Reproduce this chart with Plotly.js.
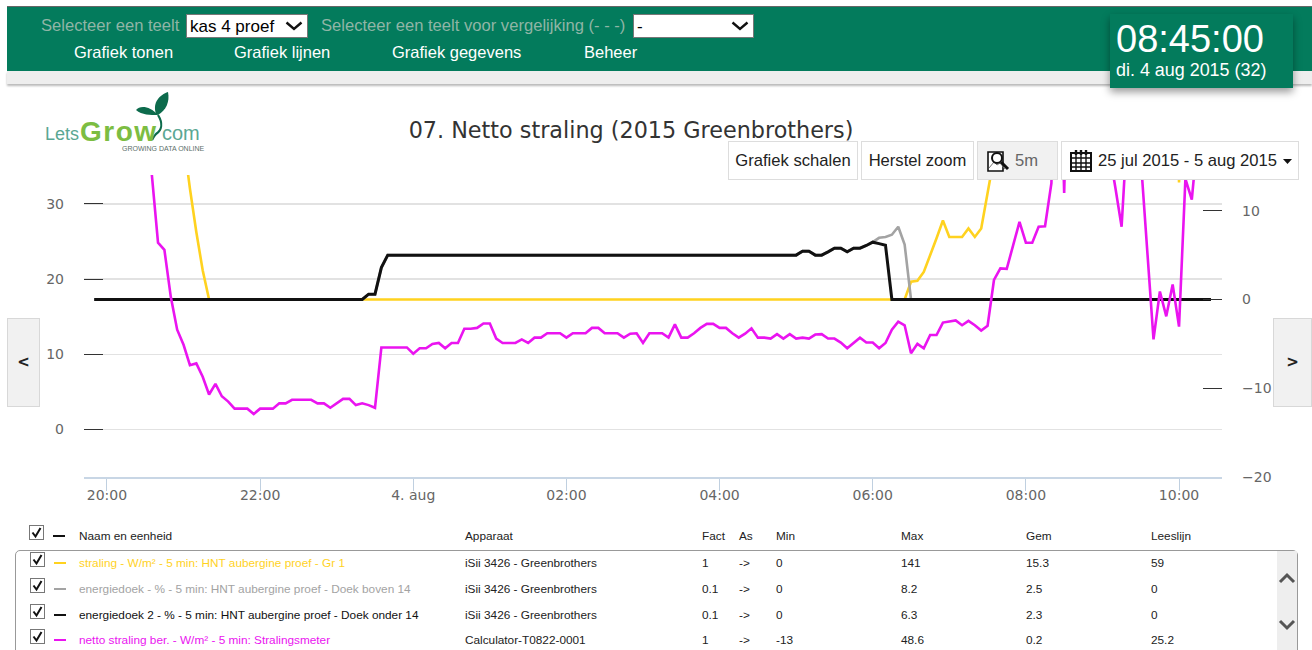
<!DOCTYPE html>
<html>
<head>
<meta charset="utf-8">
<script src="https://cdn.plot.ly/plotly-3.0.1.min.js"></script>
<style>
html,body{margin:0;padding:0;width:1312px;height:650px;overflow:hidden;background:#fff;font-family:"Liberation Sans",Arial,sans-serif}
#chart{position:absolute;left:0;top:0;width:1312px;height:650px}
.a{position:absolute;white-space:nowrap}
.lbl{font-size:16.6px;color:#8fb5a6;line-height:20px}
.nav{font-size:16.5px;color:#fff;line-height:20px}
select{position:absolute;appearance:none;-webkit-appearance:none;background:#fff url("data:image/svg+xml,%3Csvg xmlns='http://www.w3.org/2000/svg' width='18' height='10'%3E%3Cpath d='M1.5 1.5L9 8l7.500-6.500' fill='none' stroke='%23111' stroke-width='2.4'/%3E%3C/svg%3E") no-repeat right 4px center;border:1px solid #777;border-radius:0;font:17px "Liberation Sans",Arial,sans-serif;color:#000;padding:0 0 0 3px;height:24px;margin:0;box-sizing:border-box}
.btn{position:absolute;top:141px;height:39px;box-sizing:border-box;border:1px solid #ddd;background:#fff;font-size:16.6px;line-height:37px;color:#222;text-align:center;white-space:nowrap}
.side{position:absolute;top:318px;height:89px;box-sizing:border-box;border:1px solid #d8d8d8;background:#f1f1f1;font:bold 15px "DejaVu Sans",sans-serif;color:#222;line-height:87px;text-align:center}
.t{position:absolute;font-size:11.8px;line-height:14px;white-space:nowrap;color:#222}
.cb{position:absolute;width:15px;height:15px;box-sizing:border-box;border:1px solid #777;background:#fff}
.sw{position:absolute;width:12px;height:2px}
</style>
</head>
<body>
<div id="chart"></div>
<div id="chrome"></div>
<script>
var chartTitle = "07. Netto straling (2015 Greenbrothers)";
var tickVals = ["2015-08-03 20:00","2015-08-03 22:00","2015-08-04 00:00","2015-08-04 02:00","2015-08-04 04:00","2015-08-04 06:00","2015-08-04 08:00","2015-08-04 10:00"];
var tickLabels = ["20:00","22:00","4. aug","02:00","04:00","06:00","08:00","10:00"];
var seriesNames = ["straling","energiedoek","energiedoek 2","netto straling ber."];

var straling = [
90,80,70,60,52,46,40,36,32,29,
26,24,22,20,18,12.5,7.6,3.3,0,0,
0,0,0,0,0,0,0,0,0,0,
0,0,0,0,0,0,0,0,0,0,
0,0,0,0,0,0,0,0,0,0,
0,0,0,0,0,0,0,0,0,0,
0,0,0,0,0,0,0,0,0,0,
0,0,0,0,0,0,0,0,0,0,
0,0,0,0,0,0,0,0,0,0,
0,0,0,0,0,0,0,0,0,0,
0,0,0,0,0,0,0,0,0,0,
0,0,0,0,0,0,0,0,0,0,
0,0,0,0,0,0,0,0,2,2.1,
3.1,4.9,6.9,8.9,7.05,7.05,7.05,8,7.05,8,
12.1,16,22,28,30,34,38,41,44,48,
52,50,55,57,58,59,62,66,70,72,
74,78,82,70,60,50,40,30,60,65,
13.2,60,65,70,75,80];

var energiedoek = [
0,0,0,0,0,0,0,0,0,0,
0,0,0,0,0,0,0,0,0,0,
0,0,0,0,0,0,0,0,0,0,
0,0,0,0,0,0,0,0,0,0,
0,0,0,0.6,0.6,3.6,5,5,5,5,
5,5,5,5,5,5,5,5,5,5,
5,5,5,5,5,5,5,5,5,5,
5,5,5,5,5,5,5,5,5,5,
5,5,5,5,5,5,5,5,5,5,
5,5,5,5,5,5,5,5,5,5,
5,5,5,5,5,5,5,5,5,5,
5,5.45,5.45,5,5,5.37,5.79,5.79,5.37,5.79,
5.79,6.09,6.46,6.95,7.05,7.3,8.2,6.2,0,0,
0,0,0,0,0,0,0,0,0,0,
0,0,0,0,0,0,0,0,0,0,
0,0,0,0,0,0,0,0,0,0,
0,0,0,0,0,0,0,0,0,0,
0,0,0,0,0,0];

var energiedoek2 = [
0,0,0,0,0,0,0,0,0,0,
0,0,0,0,0,0,0,0,0,0,
0,0,0,0,0,0,0,0,0,0,
0,0,0,0,0,0,0,0,0,0,
0,0,0,0.6,0.6,3.6,5,5,5,5,
5,5,5,5,5,5,5,5,5,5,
5,5,5,5,5,5,5,5,5,5,
5,5,5,5,5,5,5,5,5,5,
5,5,5,5,5,5,5,5,5,5,
5,5,5,5,5,5,5,5,5,5,
5,5,5,5,5,5,5,5,5,5,
5,5.45,5.45,5,5,5.37,5.79,5.79,5.37,5.79,
5.79,6.09,6.46,6.3,6.12,0,0,0,0,0,
0,0,0,0,0,0,0,0,0,0,
0,0,0,0,0,0,0,0,0,0,
0,0,0,0,0,0,0,0,0,0,
0,0,0,0,0,0,0,0,0,0,
0,0,0,0,0,0];

var nettoStraling = [
45,44,43,41,38,35,30,26,20,14.3,
6.4,5.6,0.3,-3.4,-5.1,-7.4,-7.2,-8.7,-10.7,-9.5,
-10.9,-11.5,-12.3,-12.3,-12.3,-12.9,-12.3,-12.3,-12.3,-11.7,
-11.7,-11.3,-11.3,-11.3,-11.3,-11.7,-11.7,-12.2,-11.7,-11.2,
-11.2,-11.9,-11.7,-11.9,-12.2,-5.4,-5.4,-5.4,-5.4,-5.4,
-6.1,-5.5,-5.5,-5,-4.9,-5.5,-4.9,-4.9,-3.3,-3.3,
-3.2,-2.7,-2.7,-4.4,-4.9,-4.9,-4.9,-4.5,-4.9,-4.3,
-4.3,-3.8,-3.8,-3.8,-4.3,-3.8,-3.8,-3.8,-3.2,-3.2,
-3.8,-3.8,-3.8,-4.3,-3.85,-3.8,-4.9,-3.8,-3.8,-3.8,
-4.3,-2.8,-4.3,-4.3,-3.8,-3.2,-2.75,-2.75,-3.2,-3.2,
-3.8,-4.3,-3.85,-3.25,-4.3,-4.3,-4.4,-3.9,-4.4,-3.9,
-4.4,-4.3,-4.4,-3.95,-3.9,-4.4,-4.4,-4.85,-5.5,-4.9,
-4.3,-4.85,-4.85,-5.5,-4.9,-3.4,-2.5,-2.9,-6.05,-5,
-5.5,-4,-4,-2.6,-2.5,-2.35,-2.9,-2.4,-2.9,-3.5,
-2.95,2.2,3.5,3.45,6.1,8.75,6.4,6.4,8.2,8.25,
13.1,40,12,40,30,25.2,32,28,22,17,
12.7,8.2,20.6,22,15.9,6.1,-4.5,0.9,-1.9,1.7,
-3.05,13.6,11.25,19,22,25];

var tableHead = ["Naam en eenheid","Apparaat","Fact","As","Min","Max","Gem","Leeslijn"];
var tableNames = ["straling - W/m² - 5 min: HNT aubergine proef - Gr 1","energiedoek - % - 5 min: HNT aubergine proef - Doek boven 14","energiedoek 2 - % - 5 min: HNT aubergine proef - Doek onder 14","netto straling ber. - W/m² - 5 min: Stralingsmeter"];
var tableDevices = ["iSii 3426 - Greenbrothers","iSii 3426 - Greenbrothers","iSii 3426 - Greenbrothers","Calculator-T0822-0001"];
var tableFact = ["1","0.1","0.1","1"];
var tableAs = ["->","->","->","->"];
var tableMin = ["0","0","0","-13"];
var tableMax = ["141","8.2","6.3","48.6"];
var tableGem = ["15.3","2.5","2.3","0.2"];
var tableLees = ["59","0","0","25.2"];
var seriesColors = ["#ffd21f","#a3a3a3","#111111","#ea14f0"];

var seriesData = [straling, energiedoek, energiedoek2, nettoStraling];
var traces = seriesData.map(function(v,k){
  return {type:"scatter",mode:"lines",name:seriesNames[k],x0:"2015-08-03 19:50",dx:300000,y:v,yaxis:"y2",
    line:{color:seriesColors[k],width:k===2?3:2.6,shape:"linear"},hoverinfo:"skip"};
});
// dummy left-axis trace so that the left axis is drawn
traces.unshift({type:"scatter",mode:"none",x:[tickVals[0]],y:[0],yaxis:"y",showlegend:false,hoverinfo:"skip"});

var axisFont = {family:"DejaVu Sans, sans-serif",size:14,color:"#666"};
var layout = {
  width:1312,height:650,showlegend:false,paper_bgcolor:"#fff",plot_bgcolor:"#fff",
  margin:{l:84,r:90,t:175,b:173,pad:0},
  title:{text:chartTitle,x:631/1312,y:1-130/650,xref:"container",yref:"container",xanchor:"center",yanchor:"middle",
    font:{family:"DejaVu Sans, sans-serif",size:22.3,color:"#333"}},
  xaxis:{type:"date",range:["2015-08-03 19:42","2015-08-04 10:33:40"],tickmode:"array",tickvals:tickVals,ticktext:tickLabels,
    ticks:"outside",ticklen:12,tickwidth:1,tickcolor:"#c0d0e0",showgrid:false,showline:true,linecolor:"#c8d6e5",linewidth:1.5,
    tickfont:axisFont,tickangle:0,zeroline:false,ticklabelstandoff:-7,fixedrange:true},
  yaxis:{range:[-6.32,33.85],tickmode:"array",tickvals:[0,10,20,30],ticks:"inside",ticklen:19,tickwidth:1,tickcolor:"#333",
    showgrid:true,gridcolor:"#e2e2e2",gridwidth:1.5,zeroline:false,showline:false,tickfont:axisFont,ticklabelstandoff:19,fixedrange:true},
  yaxis2:{overlaying:"y",side:"right",range:[-20,14.03],tickmode:"array",tickvals:[-20,-10,0,10],ticks:"inside",ticklen:19,tickwidth:1,tickcolor:"#333",
    showgrid:false,zeroline:false,showline:false,tickfont:axisFont,ticklabelstandoff:19,fixedrange:true}
};
Plotly.newPlot("chart",traces,layout,{displayModeBar:false,staticPlot:true});

function checkbox(x,y){
  return '<div class="cb" style="left:'+x+'px;top:'+y+'px"><svg width="13" height="13" style="display:block"><path d="M2.5 6.5l3 4L10.5 2" fill="none" stroke="#111" stroke-width="2"/></svg></div>';
}
var colX = [79,465,702,739,776,901,1026,1151];
var rowY = [563,589,615,640];
var h = '';
// header band
h += '<div class="a" style="left:0;top:0;width:1312px;height:7px;background:#fff"></div>';
h += '<div class="a" style="left:7px;top:6px;width:1305px;height:1px;background:#666"></div>';
h += '<div class="a" style="left:7px;top:7px;width:1305px;height:64px;background:#037b5c"></div>';
h += '<div class="a" style="left:7px;top:71px;width:1305px;height:13px;background:#eeeeee;box-shadow:0 2px 2px #bbb"></div>';
h += '<div class="a lbl" style="left:41px;top:16px">Selecteer een teelt</div>';
h += '<select style="left:186px;top:14px;width:122px"><option>kas 4 proef</option></select>';
h += '<div class="a lbl" style="left:321px;top:16px">Selecteer een teelt voor vergelijking (- - -)</div>';
h += '<select style="left:633px;top:14px;width:121px"><option>-</option></select>';
h += '<div class="a nav" style="left:74px;top:42px">Grafiek tonen</div>';
h += '<div class="a nav" style="left:234px;top:42px">Grafiek lijnen</div>';
h += '<div class="a nav" style="left:392px;top:42px">Grafiek gegevens</div>';
h += '<div class="a nav" style="left:584px;top:42px">Beheer</div>';
// clock
h += '<div class="a" style="left:1110px;top:14px;width:183px;height:74px;background:#037b5c;box-shadow:0 4px 8px rgba(0,0,0,.4)"></div>';
h += '<div class="a" style="left:1116px;top:15px;font-size:38px;line-height:48px;color:#fff">08:45:00</div>';
h += '<div class="a" style="left:1116px;top:60px;font-size:18px;line-height:20px;color:#fff;transform:scaleX(.995);transform-origin:left">di. 4 aug 2015 (32)</div>';
// logo
h += '<svg class="a" style="left:130px;top:88px" width="50" height="60"><path d="M26 26C22 14 30 7 38 4C40 14 36 22 28 27Z" fill="#0d6b4c"/><path d="M6 22C10 17 20 18 28 27C20 27 12 27 6 22Z" fill="#0d6b4c"/><path d="M28 27C33 35 32 42 26 46C24 48 23 50 22 52" fill="none" stroke="#0d6b4c" stroke-width="2.2"/></svg>';
h += '<div class="a" style="left:45px;top:121px;line-height:26px;font-size:18px;color:#5aa793">Lets</div>';
h += '<div class="a" style="left:80px;top:117px;line-height:30px;font-size:28px;font-weight:bold;letter-spacing:1.5px;color:#7cbd42">Grow</div>';
h += '<div class="a" style="left:162px;top:120px;line-height:26px;font-size:20px;color:#5aa793">com</div>';
h += '<div class="a" style="left:122px;top:144px;font-size:7px;line-height:9px;color:#5c6f6a">GROWING DATA ONLINE</div>';
// buttons
h += '<div class="btn" style="left:728px;width:130px">Grafiek schalen</div>';
h += '<div class="btn" style="left:861px;width:113px">Herstel zoom</div>';
h += '<div class="btn" style="left:977px;width:81px;background:#f1f1f1;color:#666;text-align:left;padding-left:37px">5m<svg style="position:absolute;left:8px;top:7px" width="24" height="24"><path d="M2 3h15v19H2z" fill="#fff" stroke="#111" stroke-width="1.6"/><path d="M3 19l5-6 3 3 3-2 5 6" fill="none" stroke="#777"/><circle cx="11" cy="9" r="5" fill="#fff" stroke="#111" stroke-width="2"/><path d="M15 13l7 7" stroke="#111" stroke-width="3"/></svg></div>';
h += '<div class="btn" style="left:1061px;width:238px;text-align:left;padding-left:36px">25 jul 2015 - 5 aug 2015<svg style="position:absolute;left:8px;top:8px" width="22" height="22"><rect x="1" y="3" width="20" height="18" fill="none" stroke="#111" stroke-width="2"/><path d="M1 8h20M1 13h20M1 17h20M6 3v18M11 3v18M16 3v18" stroke="#111" stroke-width="1.4"/><path d="M6 0v5M11 0v5M16 0v5" stroke="#111" stroke-width="2.4"/></svg><svg style="position:absolute;right:6px;top:17px" width="9" height="6"><path d="M0 0h9L4.500 5z" fill="#111"/></svg></div>';
h += '<div class="side" style="left:7px;width:33px">&lt;</div>';
h += '<div class="side" style="left:1273px;width:39px">&gt;</div>';
// table
h += checkbox(29,525);
h += '<div class="sw" style="left:53px;top:535px;background:#111"></div>';
tableHead.forEach(function(t,c){ h += '<div class="t" style="left:'+colX[c]+'px;top:529px">'+t+'</div>'; });
h += '<div class="a" style="left:15px;top:550px;width:1283px;height:110px;box-sizing:border-box;border:1px solid #999;border-radius:5px"></div>';
h += '<div class="a" style="left:1277px;top:551px;width:20px;height:99px;background:#eeeeee"></div>';
h += '<svg class="a" style="left:1278px;top:572px" width="18" height="12"><path d="M2 10l7-7 7 7" fill="none" stroke="#555" stroke-width="3"/></svg>';
h += '<svg class="a" style="left:1278px;top:619px" width="18" height="12"><path d="M2 2l7 7 7-7" fill="none" stroke="#555" stroke-width="3"/></svg>';
rowY.forEach(function(y,r){
  h += checkbox(30,y-11);
  h += '<div class="sw" style="left:54px;top:'+(y-1)+'px;background:'+seriesColors[r]+'"></div>';
  var cols = [tableNames[r],tableDevices[r],tableFact[r],tableAs[r],tableMin[r],tableMax[r],tableGem[r],tableLees[r]];
  cols.forEach(function(t,c){
    var col = c===0 ? seriesColors[r] : "#222";
    h += '<div class="t" style="left:'+colX[c]+'px;top:'+(y-7)+'px;color:'+col+'">'+t.replace(/>/g,"&gt;")+'</div>';
  });
});
document.getElementById("chrome").innerHTML = h;
</script>
</body>
</html>
